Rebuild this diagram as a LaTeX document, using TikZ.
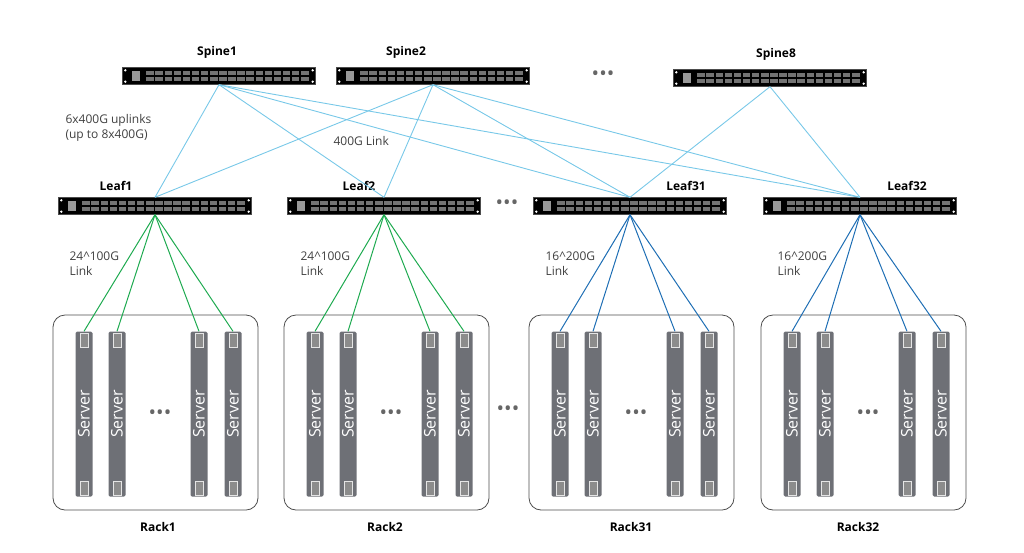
\documentclass[tikz,border=0pt]{standalone}
\usepackage{fontspec}
\setmainfont{Open Sans}
\usetikzlibrary{calc}
\begin{document}
\begin{tikzpicture}[x=1pt,y=-1pt,
  sw/.style={fill=black,draw=black!70,minimum width=193pt,minimum height=17pt,inner sep=0pt},
  lbl/.style={font=\bfseries\fontsize{12}{14}\selectfont},
  txt/.style={font=\fontsize{12}{15}\selectfont,text=black!75,align=left,anchor=north west},
  up/.style={line width=0.9pt,draw={rgb,255:red,120;green,200;blue,232}},
  gl/.style={draw={rgb,255:red,30;green,170;blue,80},line width=1pt},
  bl/.style={draw={rgb,255:red,30;green,110;blue,180},line width=1pt},
  rack/.style={draw=black!70,rounded corners=12pt,line width=0.8pt},
  srv/.style={fill={rgb,255:red,110;green,112;blue,118},rounded corners=1.5pt,minimum width=17pt,minimum height=165pt,inner sep=0pt},
  stxt/.style={rotate=90,text=white,font=\fontsize{16}{16}\selectfont},
  dots/.style={font=\fontsize{20}{20}\selectfont,text=black!60}]
\useasboundingbox (0,0) rectangle (1024,552);
\newcommand{\swports}[1]{%
  \foreach \i in {0,...,17}{\fill[black!55] ($(#1.west)+(24+\i*9.1,-5)$) rectangle ++(7.5,4);
    \fill[black!55] ($(#1.west)+(24+\i*9.1,1)$) rectangle ++(7.5,4);}
  \fill[black!40] ($(#1.west)+(10,-5)$) rectangle ++(8,10);
  \fill[white] ($(#1.north west)+(3,3)$) circle (1.3);
  \fill[white] ($(#1.south west)+(3,-3)$) circle (1.3);
  \fill[white] ($(#1.north east)+(-3,3)$) circle (1.3);
  \fill[white] ($(#1.south east)+(-3,-3)$) circle (1.3);}
% switches
\node[sw] (s1) at (219,76) {};
\node[sw] (s2) at (433,76) {};
\node[sw] (s8) at (770,78) {};
\node[sw] (l1) at (155,206) {};
\node[sw] (l2) at (384,206) {};
\node[sw] (l31) at (630,206) {};
\node[sw] (l32) at (860,206) {};
\foreach \n in {s1,s2,s8,l1,l2,l31,l32}{\swports{\n}}
\node[lbl] (ts1) at (217,52) {Spine1};
\node[lbl] (ts2) at (406,52) {Spine2};
\node[lbl] (ts8) at (776,54) {Spine8};
\node[lbl] (tl1) at (116,186) {Leaf1};
\node[lbl] (tl2) at (359,186) {Leaf2};
\node[lbl] (tl31) at (686,186) {Leaf31};
\node[lbl] (tl32) at (907,186) {Leaf32};
\node[dots] (d1) at (603,76) {•••};
\node[dots] (d2) at (507,205) {•••};
\node[dots] (d3) at (508,411) {•••};
% uplinks
\foreach \s in {s1,s2}{\foreach \l in {l1,l2,l31,l32}{\draw[up] (\s.south) -- (\l.north);}}
\foreach \l in {l31,l32}{\draw[up] (s8.south) -- (\l.north);}
\node[txt] (u1) at (62,111) {6x400G uplinks\\(up to 8x400G)};
\node[txt] (u2) at (330,133) {400G Link};
% racks
\foreach \r/\x/\l/\st/\lab/\rl/\rc in {1/53/l1/gl/24\^{}100G/Rack1/158, 2/284/l2/gl/24\^{}100G/Rack2/385, 31/529/l31/bl/16\^{}200G/Rack31/631, 32/761/l32/bl/16\^{}200G/Rack32/858}{
  \draw[rack] (\x,315) rectangle ++(205,195);
  \foreach \k/\o in {a/31,b/64,c/146,d/180}{
    \node[srv] (sv\r\k) at (\x+\o,414) {};
    \node[stxt] at (sv\r\k) {Server};
    \foreach \yy in {340,488}{
      \draw[white!80!gray,line width=0.5pt,fill=black!45] ($(sv\r\k.center)+(-4,\yy-414-7)$) rectangle ++(8,14);}
    \draw[\st] (\l.south) -- (sv\r\k.north);
  }
  \node[dots] (sd\r) at (\x+107,415) {•••};
  \node[lbl] (rk\r) at (\rc,527) {\rl};
  \node[txt] (lt\r) at (\x+13,248) {\lab\\Link};
}
\end{tikzpicture}
\end{document}
